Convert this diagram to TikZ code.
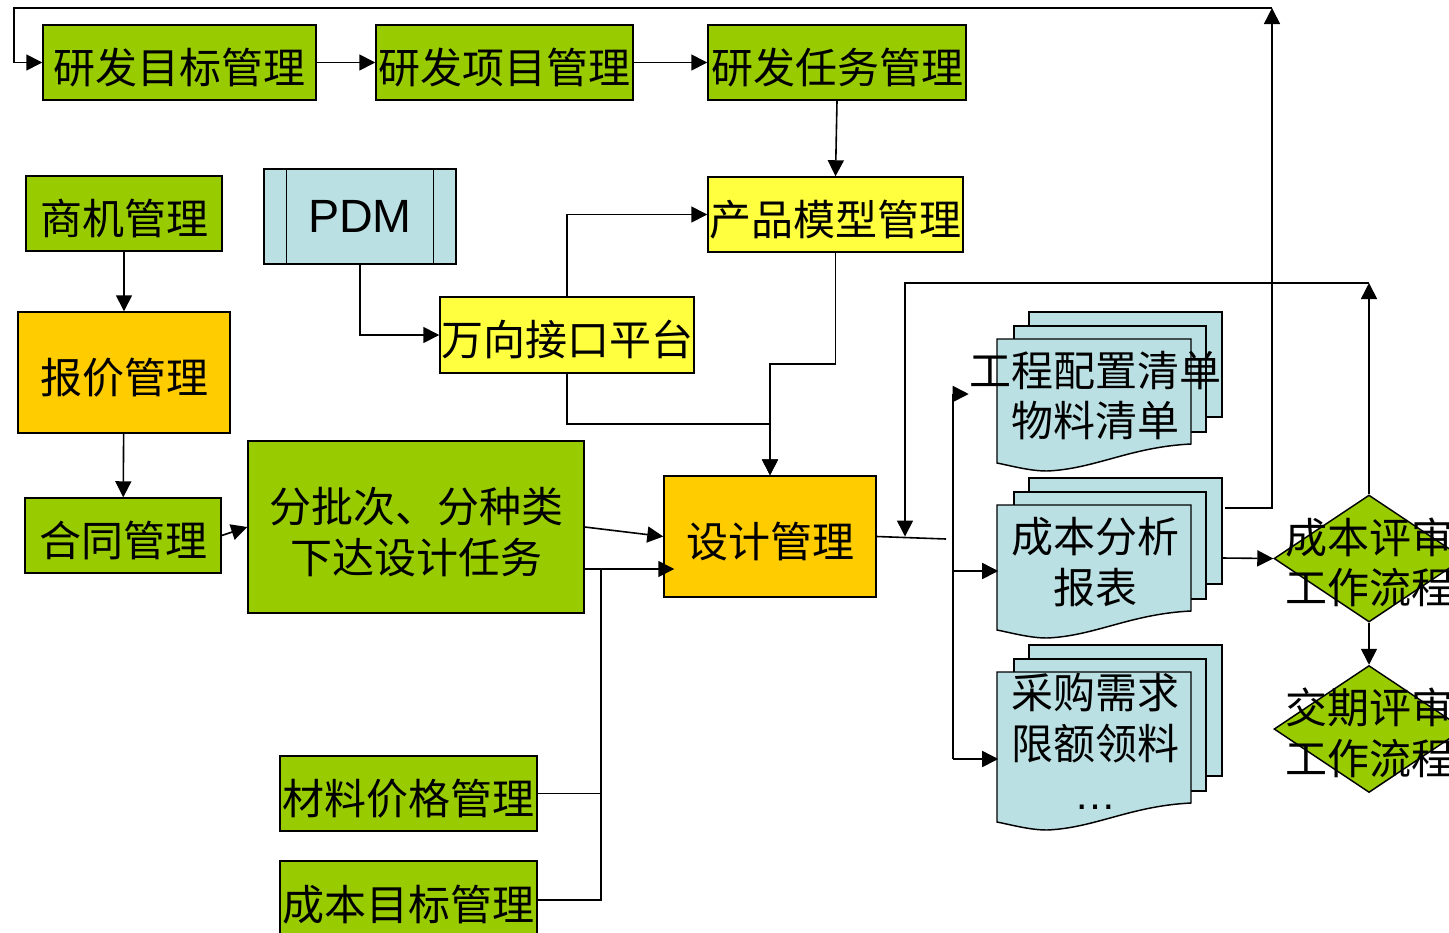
\documentclass[tikz,border=0pt]{standalone}
\usepackage{fontspec}
\setmainfont{Noto Sans CJK SC}
\newfontfamily\latinfont{Liberation Sans}
\usetikzlibrary{arrows.meta,shapes.geometric,calc}

\definecolor{boxgreen}{HTML}{99CC00}
\definecolor{boxorange}{HTML}{FFCC00}
\definecolor{boxyellow}{HTML}{FFFF40}
\definecolor{boxblue}{HTML}{BBE0E3}

\tikzset{
  box/.style={draw=black, line width=1.1pt, inner sep=0pt, align=center,
    font=\fontsize{31.5}{38}\selectfont},
  cjk/.style={execute at begin node={\rule{0pt}{1.07em}}},
  greenbox/.style={box, cjk, fill=boxgreen},
  orangebox/.style={box, cjk, fill=boxorange},
  yellowbox/.style={box, cjk, fill=boxyellow},
  sheet/.style={draw=black, line width=1.1pt, fill=boxblue},
  stacktext/.style={inner sep=0pt, align=center, minimum width=144.75pt,
    font=\fontsize{31.5}{38}\selectfont},
  review/.style={diamond, draw=black, line width=1.1pt, fill=boxgreen, inner sep=0pt,
    minimum width=142.5pt, minimum height=95.25pt},
  twoline/.style={inner sep=0pt, align=center, yshift=-3pt, font=\fontsize{31.5}{38}\selectfont},
  link/.style={line width=1.2pt, -{Triangle[length=12pt,width=12pt]}},
  plain/.style={line width=1.2pt}
}

% stacked document sheets: name, top, height, text
\newcommand\docstack[4]{%
  \begin{scope}[shift={(0,#2)}]
    \draw[sheet] (1029,0) rectangle (1222,#3);
    \draw[sheet] (1014,14) rectangle (1206,#3+15);
    \draw[sheet] (997,27) -- (1191,27) -- (1191,#3+27)
      .. controls (1130,#3+30) and (1095,#3+52) .. (1047,#3+54)
      .. controls (1030,#3+54) and (1012,#3+49) .. (997,#3+46) -- cycle;
    \node[stacktext, minimum height=#3*0.75pt] (#1) at (1095,{31+#3/2}) {#4};
  \end{scope}}

\begin{document}
\begin{tikzpicture}[x=0.75pt,y=0.75pt,yscale=-1,xscale=1]

  \useasboundingbox (0,0) rectangle (1449,932);
  \clip (0,0) rectangle (1449,932);

  % R&D row
  \node[greenbox, minimum width=204.75pt, minimum height=56.25pt] (rdmb) at (179.5,62.5) {研发目标管理};
  \node[greenbox, minimum width=192.75pt, minimum height=56.25pt] (rdxm) at (504.5,62.5) {研发项目管理};
  \node[greenbox, minimum width=193.5pt, minimum height=56.25pt] (rdrw) at (837,62.5) {研发任务管理};

  % sales column
  \node[greenbox, minimum width=147pt, minimum height=56.25pt] (sj) at (124,213.5) {商机管理};
  \node[orangebox, minimum width=159pt, minimum height=90.75pt] (bj) at (124,372.5) {报价管理};
  \node[greenbox, minimum width=147pt, minimum height=56.25pt] (ht) at (123,535.5) {合同管理};
  \node[box, fill=boxgreen, minimum width=252pt, minimum height=129pt,
    label={[twoline, yshift=-1pt]center:{分批次、分种类\\下达设计任务}}] (fp) at (416,527) {};

  % PDM and interface
  \node[box, fill=boxblue, minimum width=144pt, minimum height=71.25pt,
    font=\latinfont\fontsize{35}{40}\selectfont] (pdm) at (360,216.5) {PDM};
  \draw[line width=1.1pt] ($(pdm.north west)+(23,0)$) -- ($(pdm.south west)+(23,0)$);
  \draw[line width=1.1pt] ($(pdm.north east)+(-23,0)$) -- ($(pdm.south east)+(-23,0)$);
  \node[yellowbox, minimum width=190.5pt, minimum height=57pt] (wx) at (567,335) {万向接口平台};
  \node[yellowbox, minimum width=191.25pt, minimum height=56.25pt] (cp) at (835.5,214.5) {产品模型管理};
  \node[orangebox, minimum width=159pt, minimum height=90.75pt] (sjgl) at (770,536.5) {设计管理};

  % cost inputs
  \node[greenbox, minimum width=192.75pt, minimum height=56.25pt] (clj) at (408.5,793.5) {材料价格管理};
  \node[greenbox, minimum width=192.75pt, minimum height=58.5pt] (cbmb) at (408.5,900) {成本目标管理};

  % outputs
  \docstack{st1}{312}{105}{工程配置清单\\物料清单}
  \docstack{st2}{478}{106}{成本分析\\报表}
  \docstack{st3}{645}{131}{采购需求\\限额领料\\{\latinfont …}}

  \node[review, label={[twoline]center:{成本评审\\工作流程}}] (ca) at (1369,558.5) {};
  \node[review, label={[twoline]center:{交期评审\\工作流程}}] (jq) at (1369,729) {};

  % helper points
  \coordinate (tr) at (1272,8);
  \coordinate (tl) at (14,8);
  \coordinate (cr) at (1369,283);
  \coordinate (cl) at (905,283);
  \coordinate (bo) at (946,539);
  \coordinate (bt) at (953,394);
  \coordinate (bm) at (953,571);
  \coordinate (bb) at (953,759);
  \coordinate (fpo) at ($(fp.east)+(0,42)$);
  \coordinate (fpv) at ($(fpo)+(16,0)$);
  \coordinate (st2top) at ($(st2.north east)+(33,-1)$);

  % connectors
  \draw[link] (rdmb) -- (rdxm);
  \draw[link] (rdxm) -- (rdrw);
  \draw[link] (rdrw.south) -- (cp.north);
  \draw[link] (sj) -- (bj);
  \draw[link] (bj) -- (ht);
  \draw[link] (ht.east) -- (fp.west);
  \draw[link] (pdm.south) |- (wx.west);
  \draw[link] (wx.north) |- (cp.west);
  \draw[link] (wx.south) -- ++(0,50) -| (sjgl.north);
  \draw[link] (cp.south) -- ++(0,111) -| (sjgl.north);
  \draw[link] (fp.east) -- (sjgl.west);
  \draw[link] (fpo) -- ($(sjgl.west |- fpo)+(11,0)$);
  \draw[plain] (clj.east) -- (clj.east -| fpv);
  \draw[plain] (cbmb.east) -| (fpv);

  \draw[plain] (sjgl.east) -- (bo);
  \draw[plain] (bt) -- (bb);
  \draw[link] (bt) -- (bt -| st1.west);
  \draw[link] (bm) -- (bm -| st2.west);
  \draw[link] (bb) -- (bb -| st3.west);

  \draw[link] ($(st2.east)+(30,-4)$) -- (ca.west);
  \draw[link] (ca.south) -- (jq.north);
  \draw[link] (ca.north) -- (cr);
  \draw[link] (cr) -- (cl) -- (cl |- sjgl.east);
  \draw[link] (st2top) -| (tr);
  \draw[link] (tr) -- (tl) |- (rdmb.west);

\end{tikzpicture}
\end{document}
